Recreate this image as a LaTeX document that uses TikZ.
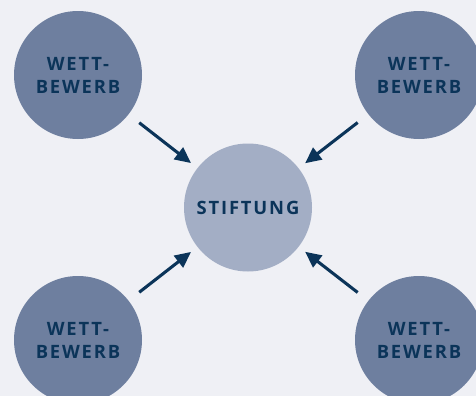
\documentclass[tikz,border=0pt]{standalone}
\usepackage{fontspec}
\setsansfont{Open Sans}[LetterSpace=10]
\usetikzlibrary{arrows.meta}

\definecolor{bgcol}{HTML}{EFF0F5}
\definecolor{outercol}{HTML}{6E7F9F}
\definecolor{innercol}{HTML}{A3AEC5}
\definecolor{navy}{HTML}{0B3459}

\begin{document}
\begin{tikzpicture}[
  x=0.75pt, y=-0.75pt,
  font=\sffamily\bfseries\fontsize{13.8}{17.2}\selectfont,
  wett/.style   = {circle, fill=outercol, minimum size=96pt, inner sep=0pt,
                   text=navy, align=center},
  stift/.style  = {circle, fill=innercol, minimum size=96pt, inner sep=0pt,
                   text=navy, align=center},
  pfeil/.style  = {draw=navy, line width=2.3pt,
                   -{Triangle[length=12pt, width=11pt]},
                   shorten <=10pt, shorten >=6pt},
]

\def\xl{78}     % column x: left
\def\xm{248}    % column x: middle
\def\xr{419}    % column x: right
\def\yt{75}     % row y: top
\def\ym{207.5}  % row y: middle
\def\yb{340}    % row y: bottom

% ---- background ------------------------------------------------------------
\fill[bgcol] (0,0) rectangle (476,396);
\clip (0,0) rectangle (476,396);

% ---- circles ---------------------------------------------------------------
\node[stift] (stiftung) at (\xm,\ym) {STIFTUNG};
\node[wett] (wettTL) at (\xl,\yt) {WETT-\\BEWERB};
\node[wett] (wettTR) at (\xr,\yt) {WETT-\\BEWERB};
\node[wett] (wettBL) at (\xl,\yb) {WETT-\\BEWERB};
\node[wett] (wettBR) at (\xr,\yb) {WETT-\\BEWERB};

% ---- arrows ----------------------------------------------------------------
\draw[pfeil] (wettTL) -- (stiftung);
\draw[pfeil] (wettTR) -- (stiftung);
\draw[pfeil] (wettBL) -- (stiftung);
\draw[pfeil] (wettBR) -- (stiftung);

\end{tikzpicture}
\end{document}
